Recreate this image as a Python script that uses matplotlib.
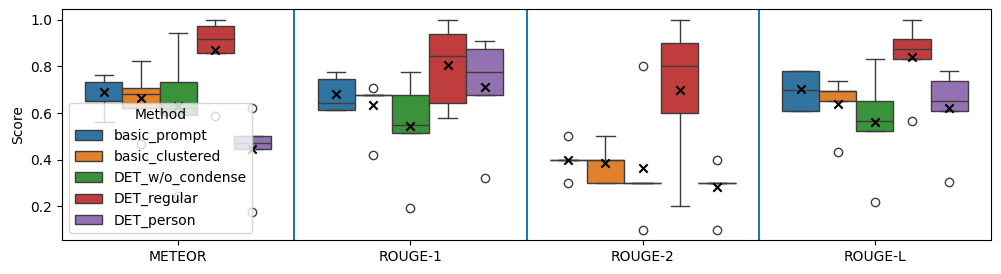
import matplotlib
matplotlib.use("Agg")
import matplotlib.pyplot as plt
from matplotlib.patches import Patch
import numpy as np

metrics = ['METEOR', 'ROUGE-1', 'ROUGE-2', 'ROUGE-L']
methods = ['basic_prompt', 'basic_clustered', 'DET_w/o_condense', 'DET_regular', 'DET_person']
colors = ['#3274a1', '#e1812c', '#3a923a', '#c03d3e', '#9372b2']

# box statistics, rows = method, columns = metric
whislo = [[0.560, 0.615, 0.400, 0.610],
          [0.620, 0.679, 0.300, 0.653],
          [0.590, 0.516, 0.300, 0.524],
          [0.857, 0.580, 0.200, 0.830],
          [0.444, 0.679, 0.300, 0.610]]
q1 = [[0.650, 0.615, 0.400, 0.610],
      [0.620, 0.679, 0.300, 0.653],
      [0.590, 0.516, 0.300, 0.524],
      [0.857, 0.645, 0.600, 0.830],
      [0.444, 0.679, 0.300, 0.610]]
med = [[0.650, 0.645, 0.400, 0.698],
       [0.680, 0.679, 0.400, 0.696],
       [0.620, 0.550, 0.300, 0.567],
       [0.916, 0.843, 0.800, 0.873],
       [0.473, 0.778, 0.300, 0.653]]
q3 = [[0.735, 0.744, 0.400, 0.782],
      [0.706, 0.679, 0.400, 0.696],
      [0.735, 0.679, 0.300, 0.653],
      [0.972, 0.937, 0.900, 0.916],
      [0.503, 0.873, 0.300, 0.739]]
whishi = [[0.765, 0.778, 0.400, 0.782],
          [0.825, 0.679, 0.500, 0.739],
          [0.943, 0.778, 0.300, 0.830],
          [1.000, 1.000, 1.000, 1.000],
          [0.503, 0.907, 0.300, 0.782]]
means = [[0.689, 0.680, 0.400, 0.701],
         [0.665, 0.633, 0.384, 0.639],
         [0.628, 0.544, 0.362, 0.561],
         [0.871, 0.806, 0.700, 0.841],
         [0.447, 0.711, 0.282, 0.621]]
fliers = [[[], [], [0.5, 0.3], []],
          [[0.469], [0.709, 0.421], [], [0.434]],
          [[0.243], [0.193], [0.8, 0.1], [0.219]],
          [[0.589], [], [], [0.567]],
          [[0.62, 0.176], [0.322], [0.4, 0.1], [0.305]]]

line_c = '#3d3d3d'
w = 0.8 / len(methods)

fig, ax = plt.subplots(figsize=(10.01, 2.74), dpi=100)
fig.subplots_adjust(left=0.062, right=0.990, top=0.966, bottom=0.124)

for j, m in enumerate(methods):
    stats = []
    pos = []
    for i in range(len(metrics)):
        stats.append({'whislo': whislo[j][i], 'q1': q1[j][i], 'med': med[j][i],
                      'q3': q3[j][i], 'whishi': whishi[j][i],
                      'fliers': fliers[j][i]})
        pos.append(i + (j - 2) * w)
    ax.bxp(stats, positions=pos, widths=w, patch_artist=True, capwidths=w / 2,
           boxprops=dict(facecolor=colors[j], edgecolor=line_c, linewidth=1.0),
           medianprops=dict(color=line_c, linewidth=1.0),
           whiskerprops=dict(color=line_c, linewidth=1.0),
           capprops=dict(color=line_c, linewidth=1.0),
           flierprops=dict(marker='o', markerfacecolor='none',
                           markeredgecolor=line_c, markersize=6),
           manage_ticks=False)
    ax.scatter(pos, means[j], marker='x', color='black', s=36, linewidths=1.5, zorder=3)

for xv in [0.5, 1.5, 2.5]:
    ax.axvline(xv, color='#1f77b4', linewidth=1.5)

ax.set_xticks(range(len(metrics)))
ax.set_xticklabels(metrics)
ax.set_xlim(-0.5, 3.5)
ax.set_ylim(0.055, 1.045)
ax.set_ylabel('Score')

handles = [Patch(facecolor=c, edgecolor=line_c, linewidth=1.0) for c in colors]
ax.legend(handles, methods, title='Method', loc='lower left')

fig.savefig('out.png', dpi=100)
